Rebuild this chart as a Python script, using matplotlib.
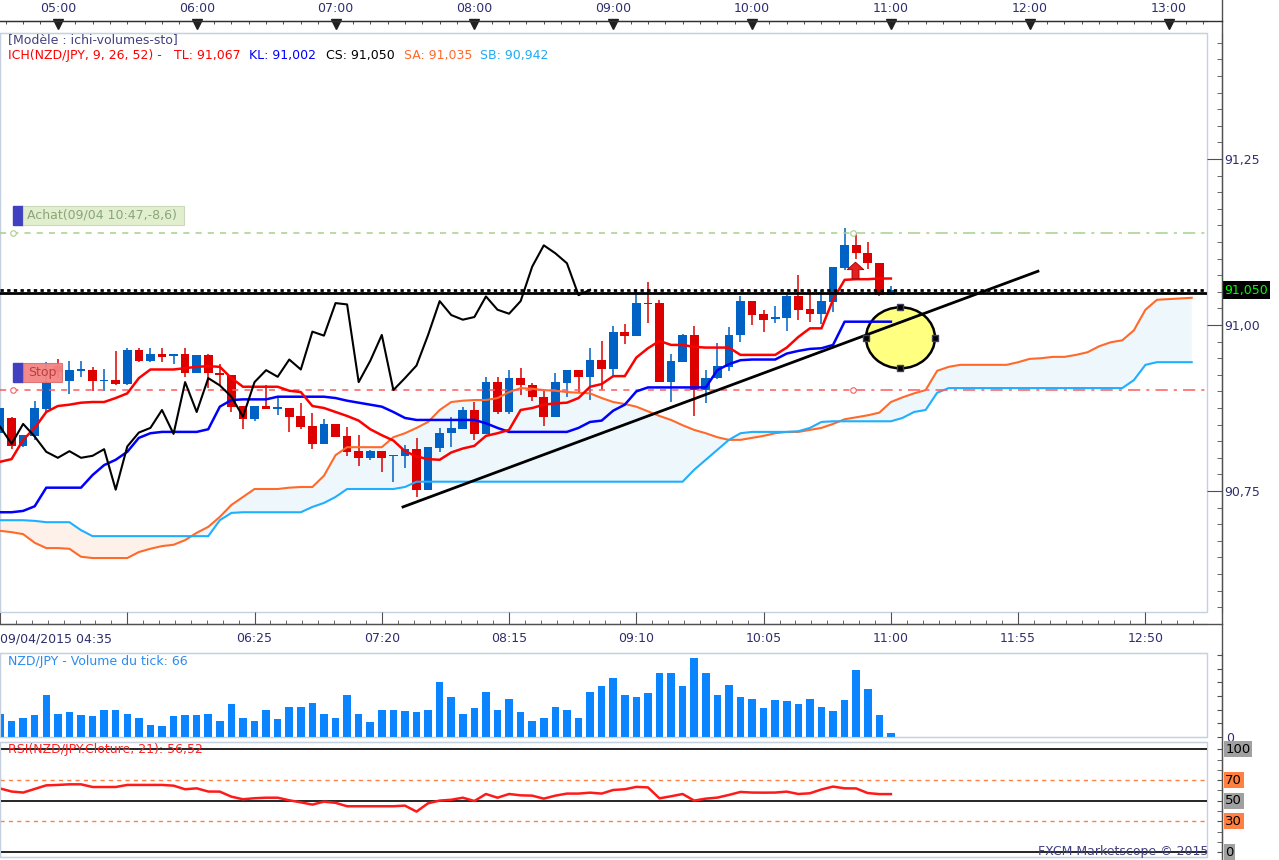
import numpy as np
import matplotlib.pyplot as plt
import matplotlib.transforms as mtransforms
from matplotlib.patches import Rectangle, Ellipse
from matplotlib.path import Path
from matplotlib.lines import Line2D
from matplotlib.ticker import FixedLocator, MultipleLocator, FuncFormatter, NullFormatter

plt.rcParams['font.family'] = ['DejaVu Sans']

# NZD/JPY, bougies 5 minutes, 09/04/2015 de 04:35 a 11:00
ouverture = [90.838, 90.860, 90.818, 90.833, 90.873, 90.938, 90.916, 90.931, 90.932, 90.915,
             90.917, 90.911, 90.962, 90.946, 90.957, 90.953, 90.956, 90.928, 90.955, 90.927,
             90.925, 90.878, 90.858, 90.878, 90.874, 90.875, 90.863, 90.848, 90.821, 90.851,
             90.833, 90.810, 90.800, 90.810, 90.802, 90.803, 90.813, 90.752, 90.815, 90.838,
             90.843, 90.872, 90.836, 90.914, 90.869, 90.920, 90.909, 90.892, 90.862, 90.913,
             90.932, 90.922, 90.948, 90.933, 90.989, 90.984, 91.033, 91.033, 90.914, 90.945,
             90.985, 90.902, 90.920, 90.937, 90.985, 91.036, 91.016, 91.009, 91.011, 91.043,
             91.024, 91.017, 91.035, 91.086, 91.120, 91.108, 91.093, 91.045]
haut = [90.884, 90.861, 90.835, 90.886, 90.945, 90.949, 90.946, 90.946, 90.936, 90.933,
        90.961, 90.966, 90.966, 90.965, 90.966, 90.957, 90.966, 90.955, 90.957, 90.942,
        90.925, 90.878, 90.878, 90.910, 90.891, 90.875, 90.882, 90.867, 90.858, 90.851,
        90.847, 90.834, 90.812, 90.810, 90.804, 90.819, 90.830, 90.817, 90.845, 90.861,
        90.877, 90.884, 90.921, 90.921, 90.932, 90.935, 90.912, 90.901, 90.927, 90.932,
        90.932, 90.965, 90.976, 90.998, 91.002, 91.054, 91.065, 91.037, 90.957, 90.987,
        90.998, 90.932, 90.973, 90.997, 91.044, 91.036, 91.023, 91.029, 91.045, 91.075,
        91.052, 91.052, 91.088, 91.146, 91.138, 91.125, 91.093, 91.058]
bas = [90.827, 90.814, 90.817, 90.827, 90.867, 90.920, 90.896, 90.922, 90.900, 90.900,
       90.910, 90.910, 90.945, 90.945, 90.945, 90.942, 90.922, 90.927, 90.905, 90.910,
       90.869, 90.844, 90.856, 90.873, 90.864, 90.839, 90.843, 90.813, 90.821, 90.832,
       90.803, 90.787, 90.796, 90.779, 90.763, 90.785, 90.741, 90.751, 90.808, 90.817,
       90.843, 90.827, 90.836, 90.866, 90.866, 90.894, 90.886, 90.848, 90.862, 90.891,
       90.898, 90.887, 90.902, 90.922, 90.972, 90.984, 91.003, 90.914, 90.884, 90.945,
       90.863, 90.883, 90.918, 90.931, 90.975, 91.000, 90.989, 91.003, 90.991, 91.008,
       91.005, 91.002, 91.020, 91.083, 91.100, 91.085, 91.043, 91.045]
cloture = [90.875, 90.818, 90.834, 90.875, 90.913, 90.929, 90.932, 90.933, 90.915, 90.917,
           90.911, 90.962, 90.946, 90.957, 90.952, 90.956, 90.928, 90.955, 90.927, 90.924,
           90.877, 90.859, 90.878, 90.873, 90.876, 90.862, 90.847, 90.821, 90.851, 90.832,
           90.809, 90.800, 90.810, 90.800, 90.803, 90.813, 90.752, 90.817, 90.838, 90.845,
           90.872, 90.836, 90.914, 90.869, 90.920, 90.909, 90.892, 90.862, 90.914, 90.932,
           90.922, 90.948, 90.933, 90.990, 90.984, 91.033, 91.031, 90.914, 90.946, 90.985,
           90.902, 90.920, 90.939, 90.985, 91.036, 91.015, 91.008, 91.012, 91.043, 91.023,
           91.017, 91.036, 91.088, 91.120, 91.108, 91.093, 91.045, 91.053]

# Ichimoku (9, 26, 52)
tenkan = [90.794, 90.798, 90.827, 90.845, 90.869, 90.878, 90.880, 90.883, 90.884, 90.884,
          90.890, 90.897, 90.920, 90.933, 90.933, 90.933, 90.935, 90.937, 90.938, 90.937,
          90.920, 90.907, 90.907, 90.907, 90.907, 90.901, 90.899, 90.878, 90.875, 90.869,
          90.863, 90.856, 90.843, 90.834, 90.826, 90.810, 90.802, 90.798, 90.797, 90.808,
          90.814, 90.818, 90.833, 90.837, 90.842, 90.872, 90.875, 90.880, 90.882, 90.883,
          90.890, 90.907, 90.911, 90.923, 90.923, 90.951, 90.965, 90.976, 90.970, 90.970,
          90.967, 90.966, 90.966, 90.966, 90.955, 90.955, 90.955, 90.955, 90.966, 90.982,
          90.995, 90.995, 91.038, 91.068, 91.069, 91.069, 91.070, 91.070]
kijun = [90.718, 90.718, 90.720, 90.727, 90.755, 90.755, 90.755, 90.755, 90.774, 90.789,
         90.797, 90.809, 90.830, 90.837, 90.839, 90.839, 90.839, 90.839, 90.843, 90.877,
         90.887, 90.888, 90.888, 90.888, 90.892, 90.892, 90.892, 90.892, 90.892, 90.890,
         90.886, 90.883, 90.880, 90.877, 90.869, 90.860, 90.857, 90.857, 90.857, 90.857,
         90.857, 90.857, 90.852, 90.845, 90.839, 90.839, 90.839, 90.839, 90.839, 90.839,
         90.845, 90.854, 90.856, 90.871, 90.880, 90.900, 90.906, 90.906, 90.906, 90.906,
         90.906, 90.906, 90.932, 90.941, 90.947, 90.948, 90.948, 90.948, 90.957, 90.961,
         90.964, 90.965, 90.970, 91.005, 91.005, 91.005, 91.005, 91.005]
# les deux bords du nuage sont deja decales de 26 bougies
senkou_a = [90.690, 90.688, 90.685, 90.672, 90.664, 90.664, 90.663, 90.651, 90.649, 90.649,
            90.649, 90.649, 90.658, 90.663, 90.667, 90.669, 90.676, 90.687, 90.696, 90.711,
            90.729, 90.741, 90.753, 90.753, 90.753, 90.755, 90.756, 90.756, 90.773, 90.804,
            90.816, 90.816, 90.816, 90.816, 90.831, 90.837, 90.845, 90.854, 90.872, 90.884,
            90.886, 90.887, 90.887, 90.890, 90.899, 90.905, 90.904, 90.902, 90.901, 90.899,
            90.898, 90.897, 90.890, 90.884, 90.881, 90.877, 90.870, 90.863, 90.857, 90.849,
            90.842, 90.837, 90.831, 90.827, 90.827, 90.830, 90.833, 90.837, 90.839, 90.839,
            90.842, 90.845, 90.851, 90.858, 90.861, 90.864, 90.868, 90.884, 90.891, 90.897,
            90.902, 90.931, 90.937, 90.940, 90.940, 90.940, 90.940, 90.940, 90.944, 90.949,
            90.950, 90.952, 90.952, 90.955, 90.959, 90.968, 90.974, 90.977, 90.992, 91.023,
            91.038, 91.039, 91.040, 91.041]
senkou_b = [90.706, 90.706, 90.706, 90.705, 90.703, 90.703, 90.703, 90.691, 90.682, 90.682,
            90.682, 90.682, 90.682, 90.682, 90.682, 90.682, 90.682, 90.682, 90.682, 90.706,
            90.717, 90.718, 90.718, 90.718, 90.718, 90.718, 90.718, 90.726, 90.732, 90.741,
            90.753, 90.753, 90.753, 90.753, 90.753, 90.756, 90.764, 90.764, 90.764, 90.764,
            90.764, 90.764, 90.764, 90.764, 90.764, 90.764, 90.764, 90.764, 90.764, 90.764,
            90.764, 90.764, 90.764, 90.764, 90.764, 90.764, 90.764, 90.764, 90.764, 90.764,
            90.782, 90.797, 90.812, 90.827, 90.837, 90.839, 90.839, 90.839, 90.839, 90.840,
            90.845, 90.854, 90.855, 90.855, 90.855, 90.855, 90.855, 90.855, 90.860, 90.869,
            90.872, 90.898, 90.905, 90.905, 90.905, 90.905, 90.905, 90.905, 90.905, 90.905,
            90.905, 90.905, 90.905, 90.905, 90.905, 90.905, 90.905, 90.905, 90.917, 90.940,
            90.944, 90.944, 90.944, 90.944]

volume = [17, 12, 14, 16, 31, 17, 18, 16, 15, 20,
          20, 17, 14, 9, 8, 15, 16, 16, 17, 12,
          24, 14, 12, 20, 13, 22, 22, 25, 17, 14,
          31, 17, 11, 20, 20, 19, 18, 20, 40, 29,
          17, 21, 33, 20, 28, 18, 12, 14, 22, 20,
          14, 33, 37, 43, 31, 29, 32, 47, 47, 37,
          58, 47, 31, 38, 29, 28, 21, 27, 26, 24,
          28, 22, 19, 27, 49, 35, 16, 3]

rsi = [62, 59, 58, 61.5, 65, 65.4, 66, 66, 63.4, 63.4,
       63.4, 65.4, 65.4, 65.4, 65.4, 64.7, 61.2, 62.1, 59, 58.9,
       54, 51.5, 52.5, 53, 53, 50.5, 48.5, 46.3, 49.2, 48,
       44.7, 44.7, 44.7, 44.7, 44.7, 45.3, 39.5, 47.6, 50.2, 51,
       53, 49.8, 56.6, 53, 56.6, 55.3, 55, 52.1, 55, 57,
       57, 57.9, 57, 60.5, 61.2, 63.5, 63, 52.4, 54.4, 56.6,
       50.2, 52.1, 53.1, 55.7, 58.6, 58, 57.9, 58, 58.9, 56.6,
       57.3, 61, 63.8, 62.1, 62, 57.5, 56.5, 56.5]

# axes du temps (position = numero de bougie)
heures = ['05:00', '06:00', '07:00', '08:00', '09:00', '10:00', '11:00', '12:00', '13:00']
heures_pos = [5, 17, 29, 41, 53, 65, 77, 89, 101]
dates = ['09/04/2015 04:35', '', '06:25', '07:20', '08:15', '09:10', '10:05', '11:00', '11:55', '12:50']
dates_pos = [0, 11, 22, 33, 44, 55, 66, 77, 88, 99]

# ordres et dessins
niveau_achat = 91.138
niveau_stop = 90.902
niveau_ligne = 91.0486
niveau_cours = 91.0527
ordre_pos = 73.75
tendance_x = [34.83, 89.71]
tendance_y = [90.726, 91.081]
cercle_x, cercle_y, cercle_l, cercle_h = 77.83, 90.9807, 5.96, 0.0919
fleche_x, fleche_y = 73.9, 91.083

BLEU = '#0062c4'
ROUGE = '#dd0000'
CADRE = '#c5d1de'
AXE = '#505050'
TXT = '#2e2e6e'

W, H = 1279, 860
XMAX = 1207 / 11.57

fig = plt.figure(figsize=(W / 100, H / 100), dpi=100)


def zone(x0, y0, x1, y1):
    return fig.add_axes([x0 / W, 1 - y1 / H, (x1 - x0) / W, (y1 - y0) / H])


def ligne_px(xs, ys, **kw):
    fig.add_artist(Line2D([x / W for x in xs], [1 - y / H for y in ys],
                          transform=fig.transFigure, **kw))


def rect_px(x0, y0, x1, y1, **kw):
    fig.add_artist(Rectangle((x0 / W, 1 - y1 / H), (x1 - x0) / W, (y1 - y0) / H,
                             transform=fig.transFigure, **kw))


def texte_px(x, y, s, **kw):
    fig.text(x / W, 1 - y / H, s, va='center', fontsize=9, **kw)


def cadre(a):
    for s in ['top', 'left', 'bottom']:
        a.spines[s].set_color(CADRE)
    a.spines['right'].set_position(('outward', 10.8))
    a.spines['right'].set_color(AXE)
    a.add_patch(Rectangle((0, 0), 1, 1, transform=a.transAxes, fill=False,
                          ec=CADRE, lw=1, clip_on=False, zorder=0.5))
    a.set_xlim(0, XMAX)
    a.yaxis.tick_right()


# ---------- graphique principal ----------
ax = zone(0, 33, 1207, 611.7)
cadre(ax)
ax.set_ylim(90.5682, 91.4398)
ax.spines['bottom'].set_position(('outward', 8.9))
ax.spines['bottom'].set_color(AXE)

idx = np.arange(len(cloture))
o = np.array(ouverture)
c = np.array(cloture)
sa = np.array(senkou_a)
sb = np.array(senkou_b)
inu = np.arange(len(sa))

ax.fill_between(inu, sa, sb, where=sa >= sb, interpolate=True, color='#eef7fc', lw=0, zorder=1)
ax.fill_between(inu, sa, sb, where=sa < sb, interpolate=True, color='#fdf1ea', lw=0, zorder=1)

ax.add_patch(Ellipse((cercle_x, cercle_y), cercle_l, cercle_h, fc='#ffff80', ec='black', lw=1.8, zorder=1.6))

coul = np.where(c >= o, BLEU, ROUGE)
ax.vlines(idx, bas, haut, colors=coul, lw=1.1, zorder=2.5)
ax.bar(idx, np.maximum(np.abs(c - o), 0.0018), bottom=np.minimum(o, c), width=0.75,
       color=coul, lw=0, zorder=2.6)

ax.plot(inu, sa, color='#ff6a2a', lw=1.5, zorder=3)
ax.plot(inu, sb, color='#1eb0ff', lw=1.5, zorder=3)
ax.plot(idx, kijun, color='#0000ff', lw=1.8, zorder=3.1)
ax.plot(idx, tenkan, color='#ff0000', lw=1.8, zorder=3.2)
# chikou : cloture decalee de 26 bougies vers la gauche
ax.plot(idx[:-26], c[26:], color='black', lw=1.5, zorder=3.3)

ax.axhline(niveau_cours, color='black', lw=2, ls=(0, (1.2, 1.2)), zorder=3.5)
ax.axhline(niveau_ligne, color='black', lw=2, zorder=3.5)
ax.plot(tendance_x, tendance_y, color='black', lw=2, zorder=4)

# niveaux d'achat et de stop
for niv, col in [(niveau_achat, '#a6d08c'), (niveau_stop, '#ff5a5a')]:
    ax.plot([0, ordre_pos], [niv, niv], color=col, lw=1.1, ls=(0, (4, 4)), zorder=3)
    ax.plot([ordre_pos, XMAX], [niv, niv], color=col, lw=1.1, ls=(0, (8, 4, 2, 4)), zorder=3)
    ax.plot([1.12, ordre_pos], [niv, niv], 'o', ms=4, mfc='white', mec=col, mew=0.8, zorder=3.1)

# poignees du cercle
ax.plot([cercle_x, cercle_x - cercle_l / 2, cercle_x + cercle_l / 2, cercle_x],
        [cercle_y + cercle_h / 2, cercle_y, cercle_y, cercle_y - cercle_h / 2],
        's', ms=5, mfc='black', mec='#404060', zorder=5, clip_on=False)

fleche = Path([(-1, 0.1), (0, 1), (1, 0.1), (0.42, 0.1), (0.42, -1), (-0.42, -1), (-0.42, 0.1), (-1, 0.1)],
              closed=True)
ax.plot([fleche_x], [fleche_y], marker=fleche, ms=12, color='#e42020', mec='#9a0000', mew=0.6, zorder=6)

# axe des prix
ax.yaxis.set_major_locator(FixedLocator([90.75, 91.0, 91.25]))
ax.yaxis.set_minor_locator(MultipleLocator(0.025))
ax.yaxis.set_major_formatter(FuncFormatter(lambda v, p: f'{v:.2f}'.replace('.', ',')))
ax.tick_params(axis='y', which='major', direction='in', length=10.8, color=AXE,
               labelsize=9, labelcolor=TXT, pad=1.5)
ax.tick_params(axis='y', which='minor', direction='in', length=3.6, color=AXE)
ax.text(1.0141, niveau_cours, '91,050', transform=mtransforms.blended_transform_factory(ax.transAxes, ax.transData),
        color='#00ff00', fontsize=9, va='center', ha='left',
        bbox=dict(facecolor='black', edgecolor='none', pad=1.5), clip_on=False)

# axe du temps en bas
ax.xaxis.set_major_locator(FixedLocator(dates_pos))
ax.set_xticklabels(dates)
ax.xaxis.set_minor_locator(MultipleLocator(11 / 8))
ax.tick_params(axis='x', which='major', direction='in', length=8.9, color=AXE,
               labelsize=9, labelcolor=TXT, pad=6)
ax.tick_params(axis='x', which='minor', direction='in', length=2.9, color=AXE)
ax.get_xticklabels()[0].set_ha('left')

# axe des heures en haut
axt = ax.twiny()
axt.set_xlim(0, XMAX)
for s in ['left', 'right', 'bottom']:
    axt.spines[s].set_visible(False)
axt.spines['top'].set_position(('outward', 8.9))
axt.spines['top'].set_color('#303030')
axt.xaxis.set_major_locator(FixedLocator(heures_pos))
axt.set_xticklabels(heures)
axt.xaxis.set_minor_locator(FixedLocator(np.arange(0.5, XMAX, 1.5)))
axt.tick_params(axis='x', which='major', length=0, labelsize=9, labelcolor=TXT, pad=4)
axt.tick_params(axis='x', which='minor', direction='in', length=2.4, color='#303030')
axt.plot(heures_pos, [1.0147] * len(heures_pos), 'v', ms=7, color='#202020', clip_on=False,
         transform=mtransforms.blended_transform_factory(axt.transData, axt.transAxes))

# ---------- volume ----------
av = zone(0, 653, 1207, 737)
cadre(av)
av.set_ylim(0, 61.4)
av.bar(idx, volume, width=0.65, color='#0a84ff', lw=0)
av.yaxis.set_major_locator(MultipleLocator(10))
av.yaxis.set_major_formatter(FuncFormatter(lambda v, p: '0' if v == 0 else ''))
av.tick_params(axis='y', direction='in', length=3.6, color=AXE, labelsize=9, labelcolor=TXT, pad=3)
av.set_xticks([])

# ---------- RSI ----------
ar = zone(0, 742, 1207, 856.5)
cadre(ar)
ar.set_ylim(-4.1, 107.1)
for v in [100, 50, 0]:
    ar.axhline(v, color='black', lw=1.2)
for v in [70, 30]:
    ar.axhline(v, color='#ff8040', lw=1, ls=(0, (3, 3)))
ar.plot(idx, rsi, color='#ff1a1a', lw=1.8)
ar.yaxis.set_major_locator(FixedLocator([0, 30, 50, 70, 100]))
ar.yaxis.set_minor_locator(MultipleLocator(10))
ar.yaxis.set_major_formatter(NullFormatter())
ar.tick_params(axis='y', which='both', direction='in', length=3.6, color=AXE)
ar.set_xticks([])
tr = mtransforms.blended_transform_factory(ar.transAxes, ar.transData)
for v, fond in [(100, '#a0a0a0'), (70, '#ff8040'), (50, '#a0a0a0'), (30, '#ff8040'), (0, '#a0a0a0')]:
    ar.text(1.0151, v, str(v), transform=tr, fontsize=9.5, color='black', va='center', ha='left',
            bbox=dict(facecolor=fond, edgecolor='none', pad=1), clip_on=False)

# ---------- lignes d'axes et textes ----------
ligne_px([1222, 1222], [0, 860], color=AXE, lw=1)
ligne_px([0, 1222], [624, 624], color=AXE, lw=1)
ligne_px([0, 1222], [20.7, 20.7], color='#303030', lw=1)

texte_px(8, 40, '[Modèle : ichi-volumes-sto]', color='#404080')
texte_px(8, 55, 'ICH(NZD/JPY, 9, 26, 52) -', color='#ff0000')
texte_px(174, 55, 'TL: 91,067', color='#ff0000')
texte_px(249, 55, 'KL: 91,002', color='#0000ff')
texte_px(326, 55, 'CS: 91,050', color='black')
texte_px(404, 55, 'SA: 91,035', color='#ff6a2a')
texte_px(480, 55, 'SB: 90,942', color='#1eaaf5')
texte_px(8, 661, 'NZD/JPY - Volume du tick: 66', color='#2a8cf0')
texte_px(8, 750, 'RSI(NZD/JPY.Cloture, 21): 56,52', color='#ff2020')
fig.text(1208 / W, 1 - 852 / H, 'FXCM Marketscope © 2015', va='center', ha='right', fontsize=9, color='#404080')

# etiquettes des ordres
rect_px(13, 206, 23, 225, color='#4040c0')
rect_px(23, 206, 184, 225, fc='#e2efcf', ec='#cad9ba', lw=0.8)
texte_px(27, 215.5, 'Achat(09/04 10:47,-8,6)', color='#8aa57a')
rect_px(13, 363, 23, 382, color='#4040c0')
rect_px(23, 363, 62, 382, fc='#f38585', ec='#e07070', lw=0.8, alpha=0.95)
texte_px(28, 372.5, 'Stop', color='#c03c3c')

fig.savefig('out.png', dpi=100)
